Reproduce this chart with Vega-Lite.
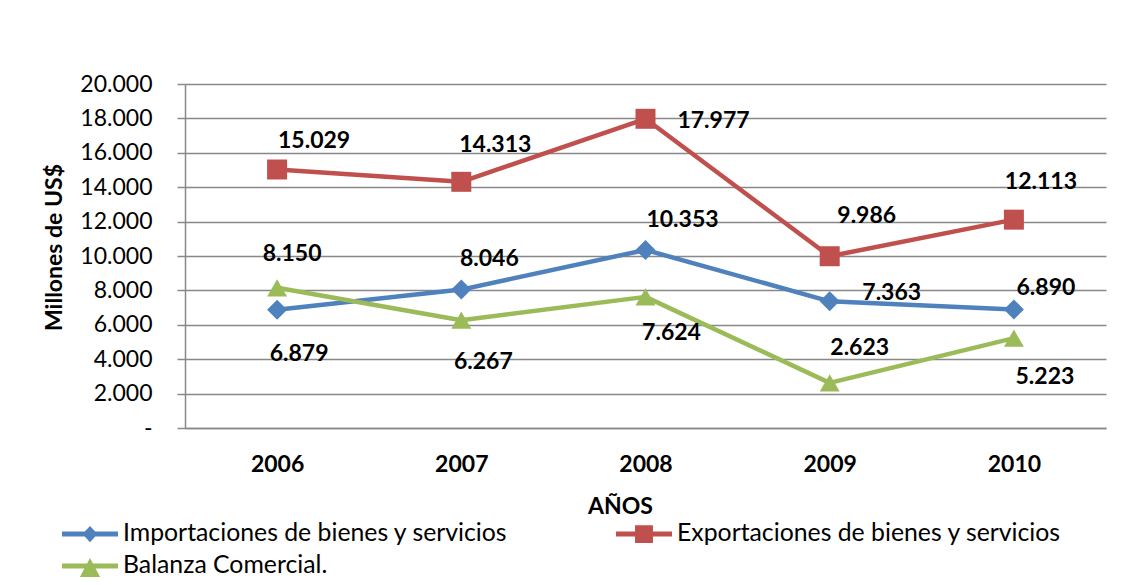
{
  "$schema": "https://vega.github.io/schema/vega-lite/v6.json",
  "width": 921,
  "height": 344,
  "autosize": {"type": "none"},
  "padding": {"left": 185, "top": 84, "right": 27, "bottom": 157},
  "background": "white",
  "config": {
    "font": "Lato",
    "locale": {"number": {"decimal": ",", "thousands": ".", "grouping": [3], "currency": ["", ""]}},
    "view": {"stroke": null}
  },
  "data": {
    "values": [
      {"year": "2006", "serie": "Importaciones de bienes y servicios", "value": 6879},
      {"year": "2007", "serie": "Importaciones de bienes y servicios", "value": 8046},
      {"year": "2008", "serie": "Importaciones de bienes y servicios", "value": 10353},
      {"year": "2009", "serie": "Importaciones de bienes y servicios", "value": 7363},
      {"year": "2010", "serie": "Importaciones de bienes y servicios", "value": 6890},
      {"year": "2006", "serie": "Exportaciones de bienes y servicios", "value": 15029},
      {"year": "2007", "serie": "Exportaciones de bienes y servicios", "value": 14313},
      {"year": "2008", "serie": "Exportaciones de bienes y servicios", "value": 17977},
      {"year": "2009", "serie": "Exportaciones de bienes y servicios", "value": 9986},
      {"year": "2010", "serie": "Exportaciones de bienes y servicios", "value": 12113},
      {"year": "2006", "serie": "Balanza Comercial.", "value": 8150},
      {"year": "2007", "serie": "Balanza Comercial.", "value": 6267},
      {"year": "2008", "serie": "Balanza Comercial.", "value": 7624},
      {"year": "2009", "serie": "Balanza Comercial.", "value": 2623},
      {"year": "2010", "serie": "Balanza Comercial.", "value": 5223}
    ]
  },
  "encoding": {
    "x": {
      "field": "year", "type": "ordinal",
      "scale": {"type": "point", "padding": 0.5},
      "axis": {
        "title": "AÑOS", "labelAngle": 0, "labelFontSize": 23, "labelFontWeight": "bold", "labelColor": "black",
        "ticks": false, "tickSize": 0, "labelPadding": 36, "labelBaseline": "middle",
        "domainColor": "#888888", "domainWidth": 1.5, "grid": false,
        "titleFontSize": 23, "titleFontWeight": "bold", "titleColor": "black",
        "titleX": 435, "titleY": 78, "titleBaseline": "middle", "titleAlign": "center"
      }
    },
    "y": {
      "field": "value", "type": "quantitative",
      "scale": {"domain": [0, 20000], "nice": false},
      "axis": {
        "values": [0, 2000, 4000, 6000, 8000, 10000, 12000, 14000, 16000, 18000, 20000],
        "format": ",.0f",
        "labelExpr": "datum.value === 0 ? '-\u00a0\u00a0\u00a0' : datum.label",
        "labelFontSize": 23, "labelColor": "black", "labelPadding": 25, "labelBaseline": "middle",
        "tickSize": 8, "tickColor": "#888888", "tickWidth": 1.5,
        "domainColor": "#888888", "domainWidth": 1.5,
        "grid": true, "gridColor": "#888888", "gridWidth": 1.5,
        "title": "Millones de US$", "titleFontSize": 23, "titleFontWeight": "bold", "titleColor": "black",
        "titleX": -131, "titleY": 163, "titleAngle": -90, "titleBaseline": "middle", "titleAlign": "center"
      }
    }
  },
  "layer": [
    {
      "transform": [{"filter": "datum.serie === 'Importaciones de bienes y servicios'"}],
      "mark": {"type": "line", "strokeWidth": 4.5, "strokeJoin": "round", "color": "#4F81BD"}
    },
    {
      "transform": [{"filter": "datum.serie === 'Exportaciones de bienes y servicios'"}],
      "mark": {"type": "line", "strokeWidth": 4.5, "strokeJoin": "round", "color": "#C0504D"}
    },
    {
      "transform": [{"filter": "datum.serie === 'Balanza Comercial.'"}],
      "mark": {"type": "line", "strokeWidth": 4.5, "strokeJoin": "round", "color": "#9BBB59"}
    },
    {
      "transform": [{"filter": "datum.serie === 'Importaciones de bienes y servicios'"}],
      "mark": {"type": "point", "filled": true, "size": 400, "opacity": 1, "shape": "diamond", "color": "#4F81BD"}
    },
    {
      "transform": [{"filter": "datum.serie === 'Exportaciones de bienes y servicios'"}],
      "mark": {"type": "point", "filled": true, "size": 400, "opacity": 1, "shape": "square", "color": "#C0504D"}
    },
    {
      "transform": [{"filter": "datum.serie === 'Balanza Comercial.'"}],
      "mark": {"type": "point", "filled": true, "size": 400, "opacity": 1, "shape": "triangle-up", "color": "#9BBB59"}
    },
    {
      "transform": [{"filter": "false"}],
      "mark": {"type": "point", "filled": true, "opacity": 1, "strokeWidth": 0},
      "encoding": {
        "color": {
          "field": "serie", "type": "nominal",
          "scale": {
            "domain": ["Importaciones de bienes y servicios", "Exportaciones de bienes y servicios", "Balanza Comercial."],
            "range": ["#4F81BD", "#C0504D", "#9BBB59"]
          },
          "legend": {
            "orient": "none", "legendX": -123, "legendY": 439, "direction": "horizontal", "columns": 2,
            "columnPadding": 108, "rowPadding": 7, "title": null, "padding": 0, "clipHeight": 22,
            "symbolSize": 3136, "symbolStrokeWidth": 0,
            "labelFontSize": 24.8, "labelColor": "black", "labelOffset": 5, "labelLimit": 600
          }
        },
        "shape": {
          "field": "serie", "type": "nominal",
          "scale": {
            "domain": ["Importaciones de bienes y servicios", "Exportaciones de bienes y servicios", "Balanza Comercial."],
            "range": [
              "M-1,-0.09H1V0.09H-1ZM-0.27,0L0,-0.29L0.27,0L0,0.29Z",
              "M-1,-0.09H1V0.09H-1ZM-0.32,-0.32H0.32V0.32H-0.32Z",
              "M-1,-0.09H1V0.09H-1ZM0,-0.29L0.36,0.39H-0.36Z"
            ]
          },
          "legend": {
            "orient": "none", "legendX": -123, "legendY": 439, "direction": "horizontal", "columns": 2,
            "columnPadding": 108, "rowPadding": 7, "title": null, "padding": 0, "clipHeight": 22,
            "symbolSize": 3136, "symbolStrokeWidth": 0,
            "labelFontSize": 24.8, "labelColor": "black", "labelOffset": 5, "labelLimit": 600
          }
        }
      }
    },
    {
      "transform": [{"filter": "datum.serie === 'Importaciones de bienes y servicios' && datum.year === '2006'"}],
      "mark": {"type": "text", "fontSize": 23, "fontWeight": "bold", "align": "center", "baseline": "middle", "dx": 22, "dy": 44, "color": "black"},
      "encoding": {"text": {"field": "value", "type": "quantitative", "format": ",.0f"}}
    },
    {
      "transform": [{"filter": "datum.serie === 'Importaciones de bienes y servicios' && datum.year === '2007'"}],
      "mark": {"type": "text", "fontSize": 23, "fontWeight": "bold", "align": "center", "baseline": "middle", "dx": 28, "dy": -31, "color": "black"},
      "encoding": {"text": {"field": "value", "type": "quantitative", "format": ",.0f"}}
    },
    {
      "transform": [{"filter": "datum.serie === 'Importaciones de bienes y servicios' && datum.year === '2008'"}],
      "mark": {"type": "text", "fontSize": 23, "fontWeight": "bold", "align": "center", "baseline": "middle", "dx": 37, "dy": -30, "color": "black"},
      "encoding": {"text": {"field": "value", "type": "quantitative", "format": ",.0f"}}
    },
    {
      "transform": [{"filter": "datum.serie === 'Importaciones de bienes y servicios' && datum.year === '2009'"}],
      "mark": {"type": "text", "fontSize": 23, "fontWeight": "bold", "align": "center", "baseline": "middle", "dx": 62, "dy": -8, "color": "black"},
      "encoding": {"text": {"field": "value", "type": "quantitative", "format": ",.0f"}}
    },
    {
      "transform": [{"filter": "datum.serie === 'Importaciones de bienes y servicios' && datum.year === '2010'"}],
      "mark": {"type": "text", "fontSize": 23, "fontWeight": "bold", "align": "center", "baseline": "middle", "dx": 32, "dy": -21, "color": "black"},
      "encoding": {"text": {"field": "value", "type": "quantitative", "format": ",.0f"}}
    },
    {
      "transform": [{"filter": "datum.serie === 'Exportaciones de bienes y servicios' && datum.year === '2006'"}],
      "mark": {"type": "text", "fontSize": 23, "fontWeight": "bold", "align": "center", "baseline": "middle", "dx": 37, "dy": -29, "color": "black"},
      "encoding": {"text": {"field": "value", "type": "quantitative", "format": ",.0f"}}
    },
    {
      "transform": [{"filter": "datum.serie === 'Exportaciones de bienes y servicios' && datum.year === '2007'"}],
      "mark": {"type": "text", "fontSize": 23, "fontWeight": "bold", "align": "center", "baseline": "middle", "dx": 34, "dy": -37, "color": "black"},
      "encoding": {"text": {"field": "value", "type": "quantitative", "format": ",.0f"}}
    },
    {
      "transform": [{"filter": "datum.serie === 'Exportaciones de bienes y servicios' && datum.year === '2008'"}],
      "mark": {"type": "text", "fontSize": 23, "fontWeight": "bold", "align": "center", "baseline": "middle", "dx": 68, "dy": 2, "color": "black"},
      "encoding": {"text": {"field": "value", "type": "quantitative", "format": ",.0f"}}
    },
    {
      "transform": [{"filter": "datum.serie === 'Exportaciones de bienes y servicios' && datum.year === '2009'"}],
      "mark": {"type": "text", "fontSize": 23, "fontWeight": "bold", "align": "center", "baseline": "middle", "dx": 37, "dy": -40, "color": "black"},
      "encoding": {"text": {"field": "value", "type": "quantitative", "format": ",.0f"}}
    },
    {
      "transform": [{"filter": "datum.serie === 'Exportaciones de bienes y servicios' && datum.year === '2010'"}],
      "mark": {"type": "text", "fontSize": 23, "fontWeight": "bold", "align": "center", "baseline": "middle", "dx": 27, "dy": -38, "color": "black"},
      "encoding": {"text": {"field": "value", "type": "quantitative", "format": ",.0f"}}
    },
    {
      "transform": [{"filter": "datum.serie === 'Balanza Comercial.' && datum.year === '2006'"}],
      "mark": {"type": "text", "fontSize": 23, "fontWeight": "bold", "align": "center", "baseline": "middle", "dx": 15, "dy": -34, "color": "black"},
      "encoding": {"text": {"field": "value", "type": "quantitative", "format": ",.0f"}}
    },
    {
      "transform": [{"filter": "datum.serie === 'Balanza Comercial.' && datum.year === '2007'"}],
      "mark": {"type": "text", "fontSize": 23, "fontWeight": "bold", "align": "center", "baseline": "middle", "dx": 22, "dy": 42, "color": "black"},
      "encoding": {"text": {"field": "value", "type": "quantitative", "format": ",.0f"}}
    },
    {
      "transform": [{"filter": "datum.serie === 'Balanza Comercial.' && datum.year === '2008'"}],
      "mark": {"type": "text", "fontSize": 23, "fontWeight": "bold", "align": "center", "baseline": "middle", "dx": 26, "dy": 36, "color": "black"},
      "encoding": {"text": {"field": "value", "type": "quantitative", "format": ",.0f"}}
    },
    {
      "transform": [{"filter": "datum.serie === 'Balanza Comercial.' && datum.year === '2009'"}],
      "mark": {"type": "text", "fontSize": 23, "fontWeight": "bold", "align": "center", "baseline": "middle", "dx": 30, "dy": -35, "color": "black"},
      "encoding": {"text": {"field": "value", "type": "quantitative", "format": ",.0f"}}
    },
    {
      "transform": [{"filter": "datum.serie === 'Balanza Comercial.' && datum.year === '2010'"}],
      "mark": {"type": "text", "fontSize": 23, "fontWeight": "bold", "align": "center", "baseline": "middle", "dx": 31, "dy": 39, "color": "black"},
      "encoding": {"text": {"field": "value", "type": "quantitative", "format": ",.0f"}}
    }
  ]
}
